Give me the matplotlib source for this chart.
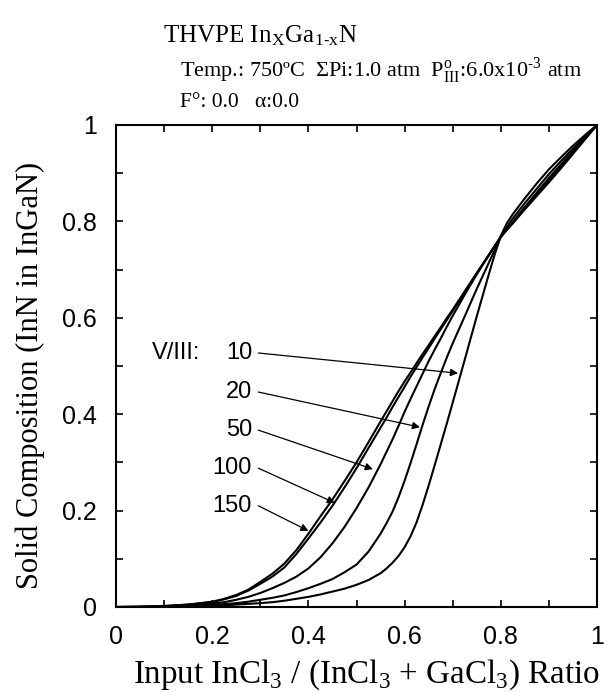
import matplotlib
matplotlib.use("Agg")
import matplotlib.pyplot as plt
from matplotlib.ticker import MultipleLocator

# ---------------- data ----------------
x_ratio = [0, 0.05, 0.1, 0.15, 0.2, 0.225, 0.25, 0.275, 0.3, 0.325, 0.35, 0.375,
           0.4, 0.425, 0.45, 0.475, 0.5, 0.525, 0.55, 0.5625, 0.575, 0.5875,
           0.6, 0.6125, 0.625, 0.6375, 0.65, 0.6625, 0.675, 0.6875, 0.7, 0.725,
           0.75, 0.775, 0.7875, 0.8, 0.8125, 0.825, 0.85, 0.875, 0.9, 0.925,
           0.95, 0.975, 1.0]

y_v150 = [0, 0.0005, 0.002, 0.005, 0.011, 0.017, 0.025, 0.036, 0.052, 0.069, 0.09,
          0.118, 0.152, 0.188, 0.223, 0.261, 0.30, 0.342, 0.385, 0.406, 0.427,
          0.448, 0.468, 0.487, 0.506, 0.525, 0.543, 0.562, 0.580, 0.599, 0.617,
          0.655, 0.693, 0.73, 0.749, 0.768, 0.782, 0.796, 0.825, 0.853, 0.881,
          0.91, 0.940, 0.97, 1.0]
y_v100 = [0, 0.0005, 0.002, 0.005, 0.01, 0.016, 0.023, 0.034, 0.048, 0.063, 0.082,
          0.11, 0.142, 0.175, 0.21, 0.248, 0.288, 0.33, 0.372, 0.393, 0.415,
          0.436, 0.457, 0.478, 0.498, 0.518, 0.537, 0.557, 0.576, 0.595, 0.614,
          0.653, 0.692, 0.73, 0.749, 0.768, 0.783, 0.797, 0.827, 0.856, 0.885,
          0.914, 0.943, 0.972, 1.0]
y_v50 = [0, 0.0003, 0.001, 0.003, 0.007, 0.01, 0.015, 0.021, 0.029, 0.039, 0.05,
         0.063, 0.08, 0.103, 0.132, 0.166, 0.205, 0.248, 0.296, 0.322, 0.348,
         0.376, 0.405, 0.432, 0.458, 0.484, 0.51, 0.534, 0.557, 0.581, 0.604,
         0.648, 0.69, 0.73, 0.749, 0.768, 0.784, 0.799, 0.83, 0.86, 0.89,
         0.918, 0.946, 0.973, 1.0]
y_v20 = [0, 0.0002, 0.0007, 0.002, 0.004, 0.006, 0.008, 0.011, 0.015, 0.019, 0.024,
         0.031, 0.039, 0.048, 0.058, 0.072, 0.088, 0.115, 0.152, 0.174, 0.198,
         0.228, 0.262, 0.299, 0.338, 0.378, 0.416, 0.452, 0.485, 0.517, 0.547,
         0.603, 0.66, 0.714, 0.741, 0.768, 0.788, 0.806, 0.838, 0.868, 0.898,
         0.925, 0.951, 0.976, 1.0]
y_v10 = [0, 0.0001, 0.0004, 0.001, 0.0025, 0.0035, 0.005, 0.0065, 0.008, 0.01, 0.013,
         0.017, 0.021, 0.026, 0.032, 0.038, 0.046, 0.056, 0.07, 0.08, 0.092,
         0.106, 0.124, 0.147, 0.176, 0.212, 0.252, 0.294, 0.337, 0.38, 0.424,
         0.513, 0.603, 0.69, 0.732, 0.77, 0.796, 0.815, 0.848, 0.879, 0.908,
         0.933, 0.957, 0.979, 1.0]

series = [y_v10, y_v20, y_v50, y_v100, y_v150]
series_labels = ["10", "20", "50", "100", "150"]
# arrow tips (x, y) on each curve, and label y-positions
arrow_tips = [(0.711, 0.485), (0.632, 0.373), (0.534, 0.286), (0.455, 0.216), (0.400, 0.158)]
label_y = [0.527, 0.446, 0.367, 0.288, 0.210]

# ---------------- figure ----------------
W, H = 604, 692
fig = plt.figure(figsize=(W / 100, H / 100), dpi=100)
ax = fig.add_axes([116 / W, 1 - 607 / H, (597 - 116) / W, (607 - 125) / H])

for ys in series:
    ax.plot(x_ratio, ys, color="black", lw=1.5, solid_joinstyle="round")

ax.set_xlim(0, 1)
ax.set_ylim(0, 1)
ax.xaxis.set_major_locator(MultipleLocator(0.2))
ax.xaxis.set_minor_locator(MultipleLocator(0.1))
ax.yaxis.set_major_locator(MultipleLocator(0.2))
ax.yaxis.set_minor_locator(MultipleLocator(0.1))


def fmt(v, pos):
    if abs(v) < 1e-9:
        return "0"
    if abs(v - 1) < 1e-9:
        return "1"
    return f"{v:.1f}"


ax.xaxis.set_major_formatter(plt.FuncFormatter(fmt))
ax.yaxis.set_major_formatter(plt.FuncFormatter(fmt))
ax.tick_params(which="both", direction="in", top=True, right=True,
               length=5, width=1.2)
ax.tick_params(axis="x", which="major", labelsize=18, pad=13)
ax.tick_params(axis="y", which="major", labelsize=18, pad=14)
for lab in ax.get_xticklabels() + ax.get_yticklabels():
    lab.set_family("Liberation Sans")
for s in ax.spines.values():
    s.set_linewidth(1.5)

serif = "Liberation Serif"
plt.rcParams["mathtext.fontset"] = "stix"

ax.set_xlabel(r"Input InCl$_\mathregular{3}$ / (InCl$_\mathregular{3}$ + GaCl$_\mathregular{3}$) Ratio",
              family=serif, fontsize=23.8)
ax.xaxis.set_label_coords((366 - 116) / 481, -(683 - 607) / 482)
ax.xaxis.label.set_va("baseline")
ax.set_ylabel("Solid Composition (InN in InGaN)", family=serif, fontsize=22)
ax.yaxis.set_label_coords(-(116 - 30) / 481, (607 - 375) / 482)
ax.yaxis.label.set_va("center")

# annotations
ax.text(0.075, label_y[0], "V/III:", family="Liberation Sans", fontsize=17,
        ha="left", va="center")
for lab, ly, tip in zip(series_labels, label_y, arrow_tips):
    ax.text(0.283, ly, lab, family="Liberation Sans", fontsize=17,
            ha="right", va="center")
    ax.annotate("", xy=tip, xytext=(0.296, ly),
                arrowprops=dict(arrowstyle="-|>", lw=0.9, color="black",
                                mutation_scale=11, shrinkA=0, shrinkB=0))

# header text
fig.text(163 / W, 1 - 43 / H,
         r"THVPE In$_\mathregular{X}$Ga$_\mathregular{1\text{-}x}$N",
         family=serif, fontsize=18, ha="left", va="baseline")
fig.text(180 / W, 1 - 77 / H,
         r"Temp.: 750ºC  ΣPi:1.0 atm  P$^\mathregular{o}_\mathregular{III}$:6.0x10$^\mathregular{\text{-}3}$ atm",
         family=serif, fontsize=16, ha="left", va="baseline")
fig.text(180 / W, 1 - 107 / H, "F°: 0.0   α:0.0",
         family=serif, fontsize=15.5, ha="left", va="baseline")

fig.savefig("out.png", dpi=100)
